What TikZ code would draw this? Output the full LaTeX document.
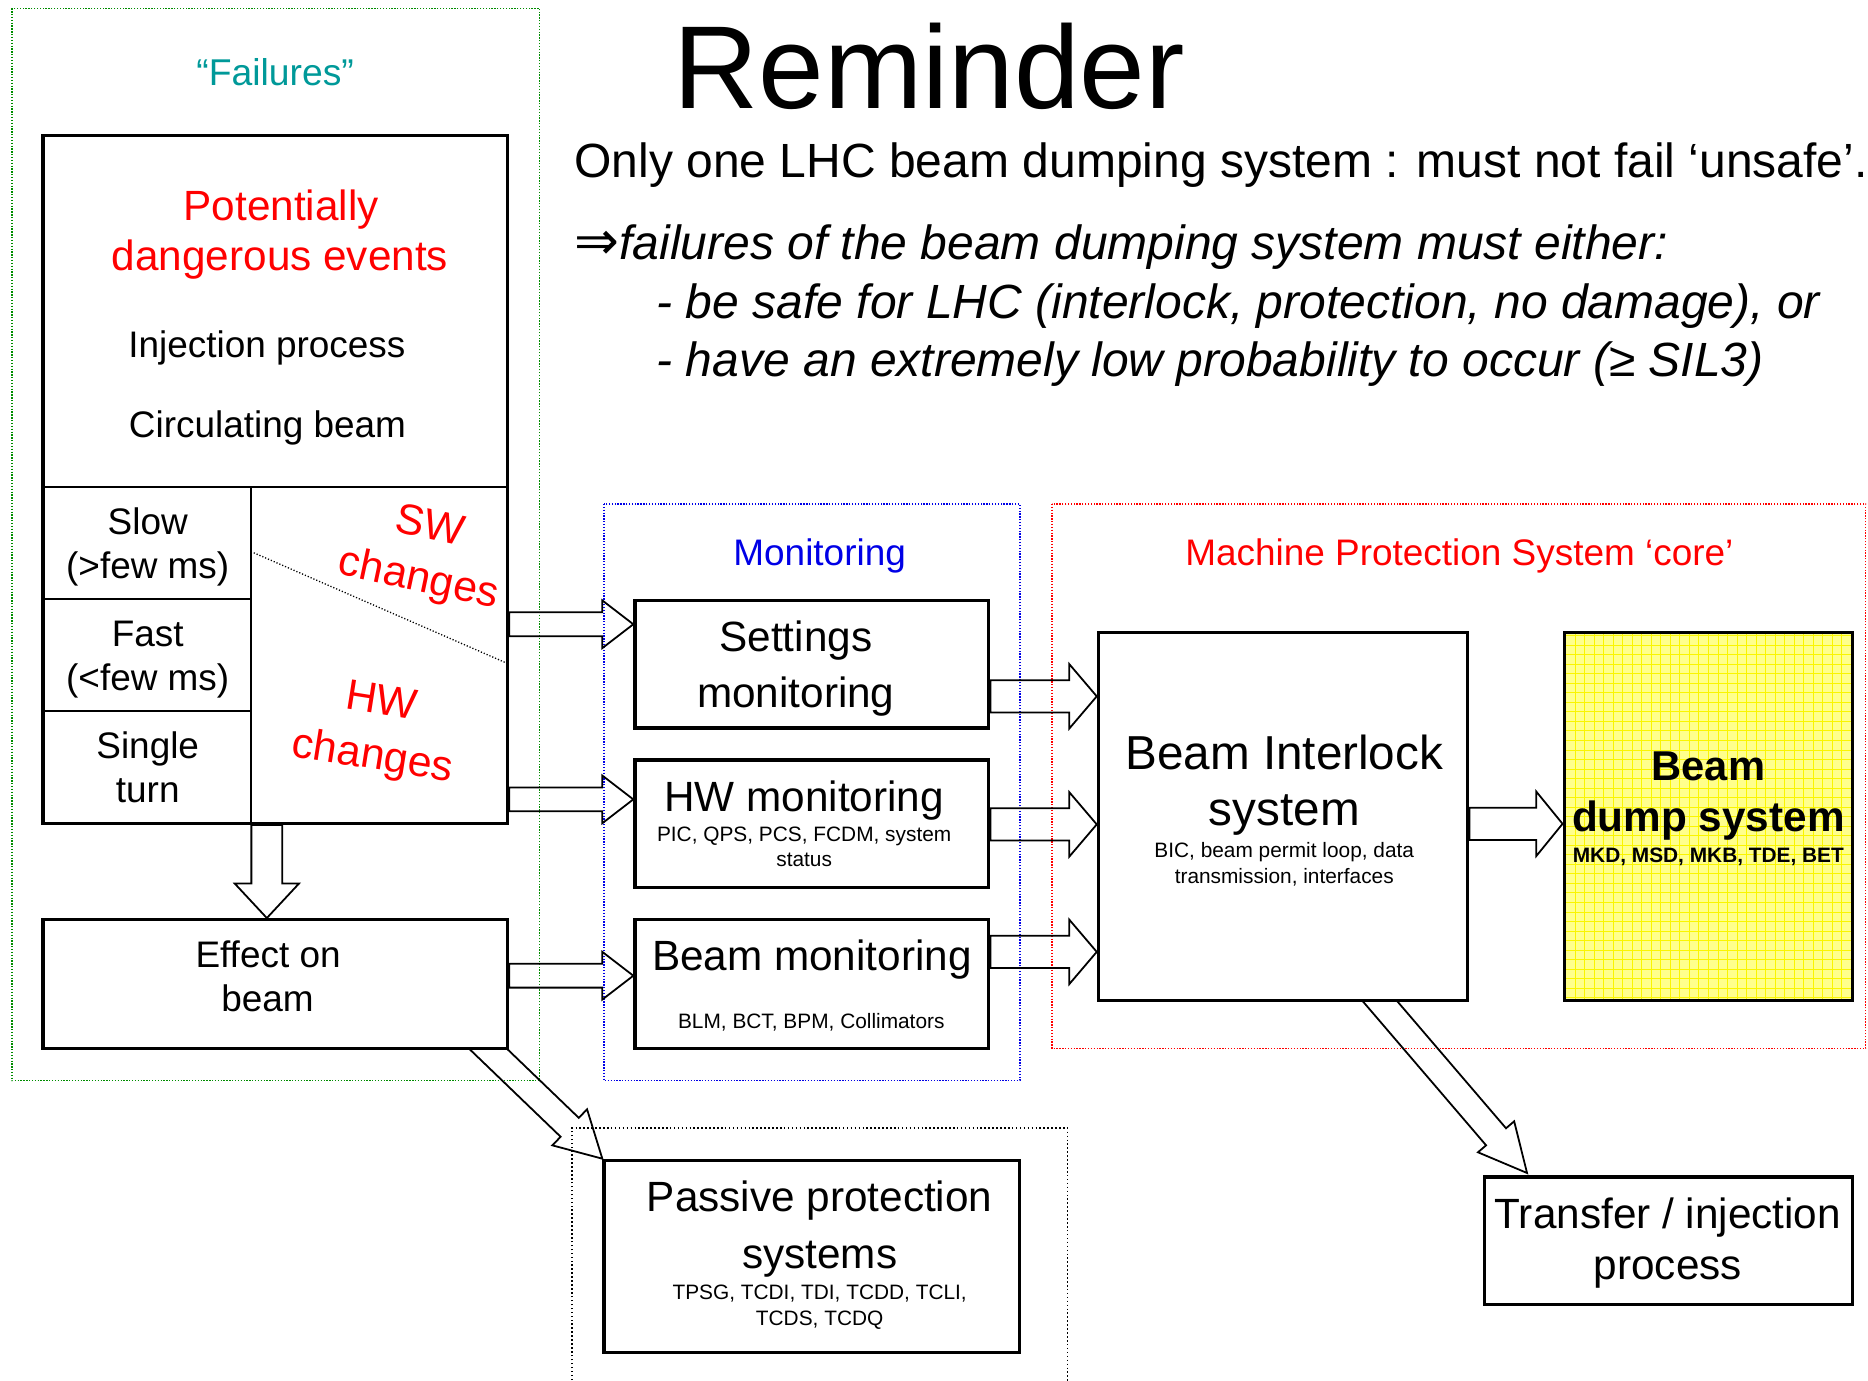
\documentclass[tikz,border=0pt]{standalone}
\usepackage{fontspec}
\setmainfont{Liberation Sans}
\newfontfamily\symfont{DejaVu Sans}
\usetikzlibrary{calc,backgrounds}
\definecolor{mpsred}{RGB}{255,0,0}
\definecolor{failteal}{RGB}{0,153,153}
\definecolor{monblue}{RGB}{0,0,230}
\definecolor{grpgreen}{RGB}{0,140,0}
\definecolor{dumpfill}{RGB}{255,255,140}
\definecolor{dumpgrid}{RGB}{250,245,0}
\newcommand\fsz[1]{\fontsize{#1pt}{#1pt}\selectfont}
% #1 prefix, #2 start, #3 tip, #4 shaft half width, #5 head half width, #6 head length
\newcommand\blockarrow[6]{%
  \coordinate (#1h) at ($(#3)!#6!(#2)$);
  \draw[barrow] ($(#2)!#4!90:(#3)$) -- ($(#1h)!#4!90:(#3)$) -- ($(#1h)!#5!90:(#3)$) -- (#3)
    -- ($(#1h)!#5!-90:(#3)$) -- ($(#1h)!#4!-90:(#3)$) -- ($(#2)!#4!-90:(#3)$) -- cycle;}
\begin{document}
\begin{tikzpicture}[x=1pt,y=-1pt,
  box/.style={draw, line width=2.8pt, fill=white, inner sep=0pt},
  txt/.style={inner sep=0pt, anchor=base},
  barrow/.style={draw, line width=1.5pt, line join=miter},
  grp/.style={line width=1.3pt, dash pattern=on 1.1pt off 1.3pt},
  divline/.style={line width=1.8pt}]
\useasboundingbox (0,0) rectangle (1568,1159);

% ---------- boxes ----------
\node[box, minimum width=390pt, minimum height=577pt] (big) at (231,402.5) {};
\node[box, minimum width=390pt, minimum height=108pt] (effect) at (231,826) {};
\node[box, minimum width=297pt, minimum height=107pt] (set) at (681.5,557.5) {};
\node[box, minimum width=297pt, minimum height=107pt] (hwm) at (681.5,691.5) {};
\node[box, minimum width=297pt, minimum height=108pt] (bm) at (681.5,826) {};
\node[box, minimum width=310pt, minimum height=309pt] (bic) at (1077,685.5) {};
\node[box, minimum width=242pt, minimum height=309pt, fill=dumpfill,
  path picture={\draw[dumpgrid, line width=0.7pt] (path picture bounding box.south west) grid[step=8pt] (path picture bounding box.north east);}] (dump) at (1434,685.5) {};
\node[box, minimum width=349pt, minimum height=161pt] (pass) at (681.5,1054.5) {};
\node[box, minimum width=309pt, minimum height=107pt] (trans) at (1400.5,1041.5) {};

% ---------- divisions of the failures box ----------
\draw[divline] (36,409) -- (426,409);
\draw[divline] (211,409) -- (211,691);
\draw[divline] (36,503) -- (211,503);
\draw[divline] (36,597) -- (211,597);
\draw[line width=1.1pt, dash pattern=on 1pt off 1.6pt] (213,464) -- (425,556.5);

% ---------- groups and arrows (behind boxes) ----------
\begin{pgfonlayer}{background}
\draw[grp, grpgreen] (10,7) rectangle (453,907);
\draw[grp, monblue] (507,423) rectangle (856,907);
\draw[grp, mpsred] (883,423) rectangle (1566,880);
\draw[grp, black, dash pattern=on 1.3pt off 2pt] (480,1165) -- (480,947) -- (896,947) -- (896,1165);

\coordinate (A1s) at ($(big.east)+(0,121.5)$);
\coordinate (A1t) at ($(set.west)+(0,-33.5)$);
\blockarrow{A1}{A1s}{A1t}{10pt}{20pt}{26pt}
\coordinate (A2s) at ($(big.east)+(0,268.5)$);
\coordinate (A2t) at ($(hwm.west)+(0,-20.5)$);
\blockarrow{A2}{A2s}{A2t}{10pt}{20pt}{26pt}
\coordinate (A3s) at ($(effect.east)+(0,-7)$);
\coordinate (A3t) at ($(bm.west)+(0,-7)$);
\blockarrow{A3}{A3s}{A3t}{10pt}{20pt}{26pt}
\coordinate (A4s) at ($(set.east)+(0,27)$);
\coordinate (A4t) at ($(bic.west)+(0,-101)$);
\blockarrow{A4}{A4s}{A4t}{13.5pt}{27pt}{23pt}
\coordinate (A5s) at ($(hwm.east)+(0,0.5)$);
\coordinate (A5t) at ($(bic.west)+(0,6.5)$);
\blockarrow{A5}{A5s}{A5t}{13.5pt}{27pt}{23pt}
\coordinate (A6s) at ($(bm.east)+(0,-27)$);
\coordinate (A6t) at ($(bic.west)+(0,113.5)$);
\blockarrow{A6}{A6s}{A6t}{13.5pt}{27pt}{23pt}
\coordinate (A7s) at ($(bic.east)+(0,6)$);
\coordinate (A7t) at ($(dump.west)+(0,6)$);
\blockarrow{A7}{A7s}{A7t}{13.5pt}{27pt}{22pt}
\coordinate (A8s) at ($(big.south)+(-7,0)$);
\coordinate (A8t) at ($(effect.north)+(-7,0)$);
\blockarrow{A8}{A8s}{A8t}{13pt}{27pt}{29pt}
\coordinate (D1s) at ($(effect.south east)+(-27,-10)$);
\coordinate (D1t) at (pass.north west);
\blockarrow{D1}{D1s}{D1t}{11pt}{21pt}{38pt}
\coordinate (D2s) at ($(bic.south)+(73.3,-10.4)$);
\coordinate (D2t) at ($(trans.north)+(-118.7,-2)$);
\blockarrow{D2}{D2s}{D2t}{11pt}{20pt}{40pt}
\end{pgfonlayer}

% ---------- top text ----------
\node[txt] (title) at (780,91) {\fsz{99}Reminder};
\node[txt, anchor=base west] (l1) at (482,149) {\fsz{40.3}Only one LHC beam dumping system : must not fail ‘unsafe’.};
\node[txt, anchor=base west] (l2) at (482,218) {{\symfont\fsz{45}⇒}\fsz{40.3}\itshape failures of the beam dumping system must either:};
\node[txt, anchor=base west] (l3) at (551,267) {\fsz{40.3}\itshape - be safe for LHC (interlock, protection, no damage), or};
\node[txt, anchor=base west] (l4) at (551,316) {\fsz{40.3}\itshape - have an extremely low probability to occur (≥ SIL3)};

% ---------- failures group ----------
\node[txt, text=failteal] (failt) at (231,72) {\fsz{31.3}“Failures”};
\node[txt, text=mpsred] (pot1) at (236,185) {\fsz{35.5}Potentially};
\node[txt, text=mpsred] (pot2) at (235,227) {\fsz{35.5}dangerous events};
\node[txt] (inj) at (224,300) {\fsz{31}Injection process};
\node[txt] (circ) at (224.5,367) {\fsz{31}Circulating beam};
\node[txt] (slow1) at (124,449) {\fsz{31}Slow};
\node[txt] (slow2) at (124,486) {\fsz{31}(>few ms)};
\node[txt] (fast1) at (124,543) {\fsz{31}Fast};
\node[txt] (fast2) at (124,580) {\fsz{31}(<few ms)};
\node[txt] (sing1) at (124,637) {\fsz{31}Single};
\node[txt] (sing2) at (124,674) {\fsz{31}turn};
\node[inner sep=0pt, rotate=-12, text=mpsred, align=center,
  font={\fontsize{36pt}{44.3pt}\selectfont}] (swc) at (355.7,465.6) {SW\\changes};
\node[inner sep=0pt, rotate=-9, text=mpsred, align=center,
  font={\fontsize{36pt}{46.1pt}\selectfont}] (hwc) at (316.2,614) {HW\\changes};
\node[txt] (eff1) at (225,812) {\fsz{31}Effect on};
\node[txt] (eff2) at (224.5,849) {\fsz{31}beam};

% ---------- monitoring group ----------
\node[txt, text=monblue] (mon) at (688,475) {\fsz{31}Monitoring};
\node[txt] (set1) at (668,547) {\fsz{35.5}Settings};
\node[txt] (set2) at (668,594) {\fsz{35.5}monitoring};
\node[txt] (hwt) at (675,681) {\fsz{35.5}HW monitoring};
\node[txt] (hws1) at (675,706) {\fsz{17.5}PIC, QPS, PCS, FCDM, system};
\node[txt] (hws2) at (675,727) {\fsz{17.5}status};
\node[txt] (bmt) at (681.5,815) {\fsz{35.5}Beam monitoring};
\node[txt] (bms) at (681,863) {\fsz{17.5}BLM, BCT, BPM, Collimators};

% ---------- MPS core ----------
\node[txt, text=mpsred] (mps) at (1225,475) {\fsz{31}Machine Protection System ‘core’};
\node[txt] (bic1) at (1078,646) {\fsz{40}Beam Interlock};
\node[txt] (bic2) at (1078,693) {\fsz{40}system};
\node[txt] (bic3) at (1078,720) {\fsz{17.5}BIC, beam permit loop, data};
\node[txt] (bic4) at (1078,742) {\fsz{17.5}transmission, interfaces};
\node[txt] (dump1) at (1434,655) {\fsz{35}\bfseries Beam};
\node[txt] (dump2) at (1434,698) {\fsz{35.5}\bfseries dump system};
\node[txt] (dump3) at (1434,724) {\fsz{17.5}\bfseries MKD, MSD, MKB, TDE, BET};

% ---------- bottom ----------
\node[txt] (pass1) at (688,1017) {\fsz{35.5}Passive protection};
\node[txt] (pass2) at (688,1065) {\fsz{35.5}systems};
\node[txt] (pass3) at (688,1091) {\fsz{17.5}TPSG, TCDI, TDI, TCDD, TCLI,};
\node[txt] (pass4) at (688,1113) {\fsz{17.5}TCDS, TCDQ};
\node[txt] (tr1) at (1400,1031) {\fsz{35.5}Transfer / injection};
\node[txt] (tr2) at (1400,1074) {\fsz{35.5}process};
\end{tikzpicture}
\end{document}
